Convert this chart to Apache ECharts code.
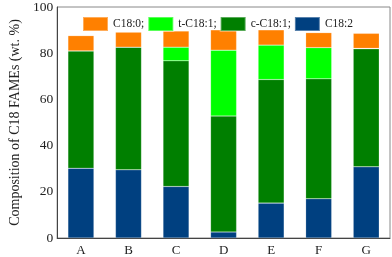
<!DOCTYPE html>
<html><head><meta charset="utf-8">
<script src="https://cdn.jsdelivr.net/npm/echarts@6/dist/echarts.min.js"></script>
<style>html,body{margin:0;padding:0;background:#fff}#c{width:392px;height:257px}</style>
</head><body><div id="c"></div>
<script>
const categories = ['A','B','C','D','E','F','G'];
const c182 = [30.2, 29.5, 22.3, 2.6, 15.1, 17.0, 30.8];
const cC181 = [50.8, 53.1, 54.4, 50.2, 53.5, 51.9, 51.1];
const tC181 = [0, 0, 5.9, 28.5, 14.9, 13.5, 0.2];
const c180 = [6.6, 6.5, 7.0, 8.8, 6.6, 6.5, 6.5];
const yTicks = [0, 20, 40, 60, 80, 100];

const font = 'Liberation Serif, Times New Roman, serif';
const mk = (name, data, color) => ({
  name, type: 'bar', stack: 's', data, barWidth: 26,
  itemStyle: { color, borderColor: 'rgba(255,255,255,0.35)', borderWidth: 0.5 }
});
const chart = echarts.init(document.getElementById('c'), null, {renderer: 'canvas'});
chart.setOption({
  animation: false,
  grid: { left: 37, right: 2, top: 7, bottom: 19, show: true, borderColor: '#888', borderWidth: 1 },
  legend: {
    data: ['C18:0;', 't-C18:1;', 'c-C18:1;', 'C18:2'],
    left: 77, top: 11, itemWidth: 25, itemHeight: 14, itemGap: 3,
    textStyle: { fontFamily: font, fontSize: 11.5, color: '#222' },
    icon: 'rect'
  },
  xAxis: {
    type: 'category', data: categories,
    axisLine: { lineStyle: { color: '#444' } }, axisTick: { show: false },
    axisLabel: { fontFamily: font, fontSize: 13, color: '#222', margin: 6 }
  },
  yAxis: {
    type: 'value', min: yTicks[0], max: yTicks[yTicks.length-1], interval: 20,
    name: 'Composition of C18 FAMEs (wt. %)', nameLocation: 'middle', nameGap: 31,
    nameTextStyle: { fontFamily: font, fontSize: 14, color: '#222' },
    axisLine: { show: true, lineStyle: { color: '#444' } }, axisTick: { show: false },
    splitLine: { show: false },
    axisLabel: { fontFamily: font, fontSize: 13.5, color: '#222', margin: 4 }
  },
  series: [
    mk('C18:2', c182, '#004080'),
    mk('c-C18:1;', cC181, '#007F00'),
    mk('t-C18:1;', tC181, '#00FF00'),
    mk('C18:0;', c180, '#FF8000')
  ]
});
</script></body></html>
